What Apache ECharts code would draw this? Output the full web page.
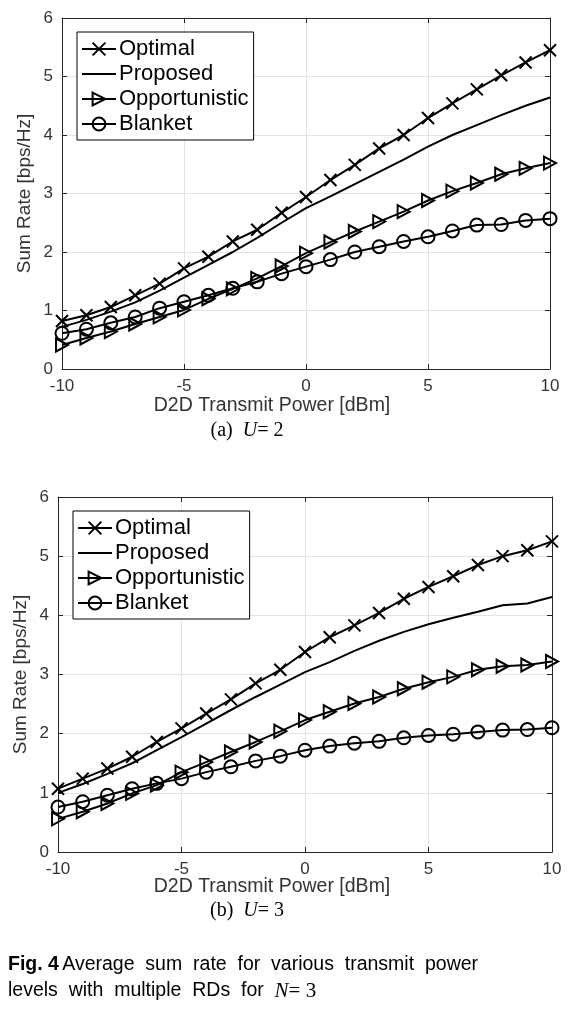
<!DOCTYPE html>
<html>
<head>
<meta charset="utf-8">
<script src="https://cdn.jsdelivr.net/npm/echarts@6/dist/echarts.min.js"></script>
<style>html,body{margin:0;padding:0;background:#fff;}#c{width:583px;height:1021px;}</style>
</head>
<body>
<div id="c"></div>
<script>
const xValues = [-10,-9,-8,-7,-6,-5,-4,-3,-2,-1,0,1,2,3,4,5,6,7,8,9,10];
const xTicks = [-10,-5,0,5,10];
const yTicks = [0,1,2,3,4,5,6];
const seriesNames = ['Optimal','Proposed','Opportunistic','Blanket'];

// (a) U = 2
const optimalA = [0.82,0.92,1.06,1.26,1.46,1.72,1.92,2.18,2.38,2.67,2.94,3.23,3.49,3.77,4.00,4.29,4.54,4.78,5.02,5.24,5.45];
const proposedA = [0.72,0.84,0.98,1.14,1.34,1.56,1.78,2.00,2.24,2.50,2.75,2.95,3.16,3.37,3.58,3.80,4.00,4.17,4.34,4.50,4.64];
const opportunisticA = [0.41,0.53,0.64,0.77,0.89,1.01,1.20,1.37,1.55,1.76,1.98,2.17,2.35,2.52,2.69,2.88,3.04,3.18,3.33,3.43,3.52];
const blanketA = [0.61,0.68,0.79,0.89,1.04,1.15,1.26,1.38,1.49,1.63,1.75,1.87,2.00,2.09,2.18,2.26,2.36,2.46,2.47,2.54,2.57];

// (b) U = 3
const optimalB = [1.07,1.24,1.41,1.61,1.86,2.09,2.34,2.58,2.85,3.08,3.38,3.63,3.83,4.04,4.28,4.48,4.66,4.85,5.00,5.10,5.25];
const proposedB = [1.00,1.15,1.32,1.50,1.72,1.94,2.17,2.40,2.62,2.83,3.04,3.21,3.40,3.57,3.72,3.85,3.96,4.06,4.17,4.20,4.31];
const opportunisticB = [0.56,0.68,0.82,0.99,1.13,1.35,1.52,1.69,1.86,2.04,2.23,2.37,2.51,2.62,2.76,2.87,2.96,3.08,3.14,3.16,3.22];
const blanketB = [0.76,0.85,0.96,1.07,1.16,1.24,1.35,1.44,1.54,1.62,1.72,1.79,1.84,1.87,1.93,1.97,1.99,2.03,2.06,2.07,2.10];

const SANS = '"Liberation Sans", Arial, Helvetica, sans-serif';
const SERIF = '"Liberation Serif", "Times New Roman", serif';
const AX = '#262626';

const pair = ys => xValues.map((x, i) => [x, ys[i]]);

const styles = {
  'Optimal': {symbol: 'path://M0,0L10,10M10,0L0,10', symbolSize: 12},
  'Proposed': {symbol: 'none', symbolSize: 0},
  'Opportunistic': {symbol: 'path://M0,0L10,5L0,10Z', symbolSize: [12, 13]},
  'Blanket': {symbol: 'circle', symbolSize: 13}
};

function mkSeries(name, ys, xi, yi) {
  const s = styles[name];
  const noSym = s.symbol === 'none';
  return {
    name, type: 'line', xAxisIndex: xi, yAxisIndex: yi,
    data: pair(ys), symbol: s.symbol, symbolSize: s.symbolSize,
    showSymbol: !noSym, clip: false, animation: false,
    lineStyle: {color: '#000', width: 2},
    itemStyle: {color: 'rgba(255,255,255,0)', borderColor: noSym ? 'rgba(0,0,0,0)' : '#000', borderWidth: noSym ? 0 : 2},
    emphasis: {disabled: true}
  };
}

function xAx(gi, pos, labels) {
  return {
    type: 'value', gridIndex: gi, position: pos, min: -10, max: 10, interval: 5,
    axisLine: {show: true, onZero: false, lineStyle: {color: AX, width: 1}},
    axisTick: {show: true, inside: true, length: 5, lineStyle: {color: AX}},
    axisLabel: {show: labels, margin: 9, fontSize: 17, fontFamily: SANS, color: '#333'},
    splitLine: {show: labels, lineStyle: {color: '#e3e3e3', width: 1}}
  };
}
function yAx(gi, pos, labels) {
  return {
    type: 'value', gridIndex: gi, position: pos, min: 0, max: 6, interval: 1,
    axisLine: {show: true, onZero: false, lineStyle: {color: AX, width: 1}},
    axisTick: {show: true, inside: true, length: 5, lineStyle: {color: AX}},
    axisLabel: {show: labels, margin: 9, fontSize: 17, fontFamily: SANS, color: '#333'},
    splitLine: {show: labels, lineStyle: {color: '#e3e3e3', width: 1}}
  };
}

function mkLegend(left, top) {
  return {
    data: seriesNames, orient: 'vertical', left, top,
    backgroundColor: '#fff', borderColor: '#000', borderWidth: 1, borderRadius: 0,
    padding: [6, 5, 5, 4], itemWidth: 34, itemHeight: 16, itemGap: 3,
    selectedMode: false,
    textStyle: {fontSize: 22, fontFamily: SANS, color: '#000', lineHeight: 21, padding: [0, 0, 0, -2]}
  };
}

const chart = echarts.init(document.getElementById('c'), null, {renderer: 'canvas'});
chart.setOption({
  animation: false,
  backgroundColor: '#fff',
  grid: [
    {left: 62, top: 18, width: 488, height: 351},
    {left: 58, top: 497, width: 494, height: 355}
  ],
  xAxis: [xAx(0, 'bottom', true), xAx(0, 'top', false), xAx(1, 'bottom', true), xAx(1, 'top', false)],
  yAxis: [yAx(0, 'left', true), yAx(0, 'right', false), yAx(1, 'left', true), yAx(1, 'right', false)],
  legend: [mkLegend(77, 32), mkLegend(73, 511)],
  series: [
    mkSeries('Optimal', optimalA, 0, 0),
    mkSeries('Proposed', proposedA, 0, 0),
    mkSeries('Opportunistic', opportunisticA, 0, 0),
    mkSeries('Blanket', blanketA, 0, 0),
    mkSeries('Optimal', optimalB, 2, 2),
    mkSeries('Proposed', proposedB, 2, 2),
    mkSeries('Opportunistic', opportunisticB, 2, 2),
    mkSeries('Blanket', blanketB, 2, 2)
  ],
  graphic: [
    {type: 'text', x: 25, y: 193.5, rotation: Math.PI / 2,
     style: {text: 'Sum Rate [bps/Hz]', font: '19px ' + SANS, fill: '#333', textAlign: 'center', textVerticalAlign: 'middle'}},
    {type: 'text', x: 21, y: 674.5, rotation: Math.PI / 2,
     style: {text: 'Sum Rate [bps/Hz]', font: '19px ' + SANS, fill: '#333', textAlign: 'center', textVerticalAlign: 'middle'}},
    {type: 'text', x: 272, y: 406,
     style: {text: 'D2D Transmit Power [dBm]', font: '19.5px ' + SANS, fill: '#333', textAlign: 'center', textVerticalAlign: 'middle'}},
    {type: 'text', x: 272, y: 887,
     style: {text: 'D2D Transmit Power [dBm]', font: '19.5px ' + SANS, fill: '#333', textAlign: 'center', textVerticalAlign: 'middle'}},
    {type: 'text', x: 247, y: 431,
     style: {text: '{n|(a)  }{i|U}{n|= 2}', textAlign: 'center', textVerticalAlign: 'middle',
       rich: {n: {fontFamily: SERIF, fontSize: 20, fill: '#000'}, i: {fontFamily: SERIF, fontSize: 20, fontStyle: 'italic', fill: '#000'}}}},
    {type: 'text', x: 247, y: 911,
     style: {text: '{n|(b)  }{i|U}{n|= 3}', textAlign: 'center', textVerticalAlign: 'middle',
       rich: {n: {fontFamily: SERIF, fontSize: 20, fill: '#000'}, i: {fontFamily: SERIF, fontSize: 20, fontStyle: 'italic', fill: '#000'}}}},
    {type: 'text', x: 8, y: 965,
     style: {text: '{b|Fig. 4} {n|Average  sum  rate  for  various  transmit  power}', textAlign: 'left', textVerticalAlign: 'middle',
       rich: {b: {fontFamily: SANS, fontSize: 19.5, fontWeight: 'bold', fill: '#000'}, n: {fontFamily: SANS, fontSize: 19.5, fill: '#000'}}}},
    {type: 'text', x: 8, y: 991,
     style: {text: '{n|levels  with  multiple  RDs  for  }{i|N}{s|= 3}', textAlign: 'left', textVerticalAlign: 'middle',
       rich: {n: {fontFamily: SANS, fontSize: 19.5, fill: '#000'}, i: {fontFamily: SERIF, fontSize: 21, fontStyle: 'italic', fill: '#000'}, s: {fontFamily: SERIF, fontSize: 21, fill: '#000'}}}}
  ]
});
</script>
</body>
</html>
